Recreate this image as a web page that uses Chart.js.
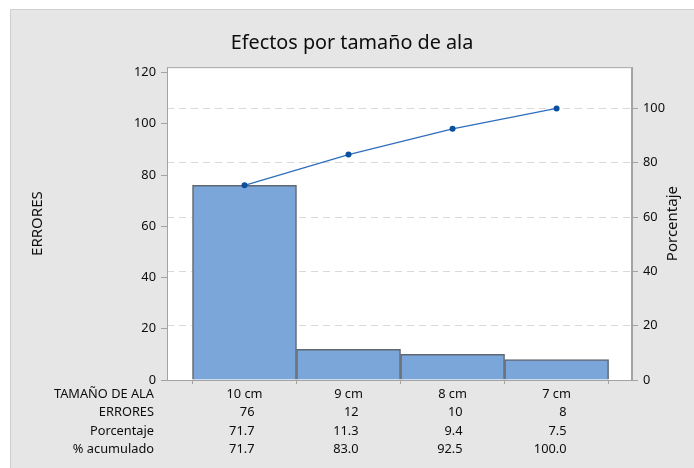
<!DOCTYPE html>
<html>
<head>
<meta charset="utf-8">
<script src="https://cdn.jsdelivr.net/npm/chart.js@4.4.1/dist/chart.umd.min.js"></script>
<style>
  html, body { margin: 0; padding: 0; background: #ffffff; }
  #wrap { width: 694px; height: 468px; }
</style>
</head>
<body>
<div id="wrap"><canvas id="c" width="694" height="468"></canvas></div>
<script>
// Pareto data: errors by wing size
const categorias = ['10 cm', '9 cm', '8 cm', '7 cm'];
const errores = [76, 12, 10, 8];
const porcentaje = [71.7, 11.3, 9.4, 7.5];
const acumulado = [71.7, 83.0, 92.5, 100.0];
const filas = ['TAMAÑO DE ALA', 'ERRORES', 'Porcentaje', '% acumulado'];
const ticksErrores = [0, 20, 40, 60, 80, 100, 120];
const ticksPorcentaje = [0, 20, 40, 60, 80, 100];

const total = errores.reduce((a, b) => a + b, 0);
const yMax = 122.1;
const y2Max = yMax / total * 100;

const FONT = "'Noto Sans', 'Open Sans', sans-serif";
const TEXT = '#0d0d0d';
const AXIS = '#a3a3a3';

const fondo = {
  id: 'fondo',
  beforeDraw(chart) {
    const { ctx, chartArea: a } = chart;
    ctx.save();
    ctx.fillStyle = '#ffffff';
    ctx.fillRect(0, 0, chart.width, chart.height);
    ctx.fillStyle = '#e6e6e6';
    ctx.fillRect(10, 9, chart.width - 10, chart.height - 9);
    ctx.strokeStyle = '#cfcfcf';
    ctx.lineWidth = 1;
    ctx.beginPath();
    ctx.moveTo(10.5, chart.height);
    ctx.lineTo(10.5, 9.5);
    ctx.lineTo(chart.width, 9.5);
    ctx.stroke();
    ctx.fillStyle = '#ffffff';
    ctx.fillRect(a.left, a.top, a.right - a.left, a.bottom - a.top);
    ctx.restore();
  },
  afterDraw(chart) {
    const { ctx, chartArea: a, scales } = chart;
    ctx.save();
    // plot frame
    ctx.strokeStyle = AXIS;
    ctx.lineWidth = 1;
    ctx.strokeRect(a.left + 0.5, a.top + 0.5, a.right - a.left - 1, a.bottom - a.top);

    // right axis title, reading bottom to top
    ctx.fillStyle = TEXT;
    ctx.font = "15px " + FONT;
    ctx.textAlign = 'center';
    ctx.textBaseline = 'middle';
    ctx.translate(673, (a.top + a.bottom) / 2);
    ctx.rotate(-Math.PI / 2);
    ctx.fillText('Porcentaje', 0, 0);
    ctx.restore();

    // summary table under the axis
    ctx.save();
    ctx.fillStyle = TEXT;
    ctx.font = "12.8px " + FONT;
    ctx.textBaseline = 'middle';
    const rowsY = [394, 412.5, 431, 449.5];
    ctx.textAlign = 'right';
    filas.forEach((t, r) => ctx.fillText(t, 154, rowsY[r]));
    const x = scales.x;
    categorias.forEach((c, i) => {
      const px = x.getPixelForValue(i) + 10;
      ctx.fillText(String(errores[i]), px, rowsY[1]);
      ctx.fillText(porcentaje[i].toFixed(1), px, rowsY[2]);
      ctx.fillText(acumulado[i].toFixed(1), px, rowsY[3]);
    });
    ctx.restore();
  }
};

new Chart(document.getElementById('c'), {
  type: 'bar',
  data: {
    datasets: [
      {
        type: 'line',
        label: '% acumulado',
        data: acumulado.map((v, i) => ({ x: i, y: v })),
        yAxisID: 'y2',
        borderColor: '#2d6fbd',
        borderWidth: 1.3,
        pointRadius: 3,
        pointBackgroundColor: '#0b4f9f',
        pointBorderColor: '#0b4f9f',
        pointBorderWidth: 0,
        tension: 0,
        order: 0
      },
      {
        type: 'bar',
        label: 'ERRORES',
        data: errores.map((v, i) => ({ x: i, y: v })),
        yAxisID: 'y',
        backgroundColor: '#7ba6d9',
        borderColor: '#5f6770',
        borderWidth: 1.5,
        categoryPercentage: 1,
        barPercentage: 1,
        order: 1
      }
    ]
  },
  options: {
    responsive: false,
    animation: false,
    events: [],
    layout: { padding: { left: 10, right: 0, top: 9, bottom: 0 } },
    plugins: {
      legend: { display: false },
      tooltip: { enabled: false },
      title: {
        display: true,
        text: 'Efectos por tamaño de ala',
        color: TEXT,
        font: { family: FONT, size: 19.8, weight: 'normal', lineHeight: 1.2 },
        padding: { top: 22, bottom: 12.4 }
      }
    },
    scales: {
      x: {
        type: 'linear',
        min: -0.745,
        max: 3.725,
        offset: false,
        afterBuildTicks(s) { s.ticks = categorias.map((c, i) => ({ value: i })); },
        afterFit(s) { s.height = 88; },
        ticks: {
          color: TEXT,
          font: { family: FONT, size: 12.8 },
          padding: 3,
          maxRotation: 0,
          autoSkip: false,
          callback: (v) => categorias[Math.round(v)]
        },
        grid: { display: true, drawOnChartArea: false, tickLength: 4, tickColor: AXIS },
        border: { display: true, color: AXIS, width: 1 }
      },
      y: {
        position: 'left',
        min: 0,
        max: yMax,
        afterBuildTicks(s) { s.ticks = ticksErrores.map(v => ({ value: v })); },
        afterFit(s) { s.width = 157; },
        ticks: { color: TEXT, font: { family: FONT, size: 12.8 }, padding: 5 },
        grid: { drawOnChartArea: false, tickLength: 6, tickColor: AXIS },
        border: { display: true, color: AXIS, width: 1 },
        title: {
          display: true,
          text: 'ERRORES',
          color: TEXT,
          font: { family: FONT, size: 15, lineHeight: 1.2 },
          padding: { top: 19, bottom: 0 }
        }
      },
      y2: {
        position: 'right',
        min: 0,
        max: y2Max,
        afterBuildTicks(s) { s.ticks = ticksPorcentaje.map(v => ({ value: v })); },
        afterFit(s) { s.width = 62; },
        ticks: { color: TEXT, font: { family: FONT, size: 12.8 }, padding: 5 },
        grid: {
          drawOnChartArea: true,
          color: (c) => (c.tick && c.tick.value === 0 ? 'rgba(0,0,0,0)' : '#d9d9d9'),
          lineWidth: 1,
          tickLength: 6,
          tickColor: AXIS
        },
        border: { display: true, color: AXIS, width: 1, dash: [7, 5] }
      }
    }
  },
  plugins: [fondo]
});
</script>
</body>
</html>
